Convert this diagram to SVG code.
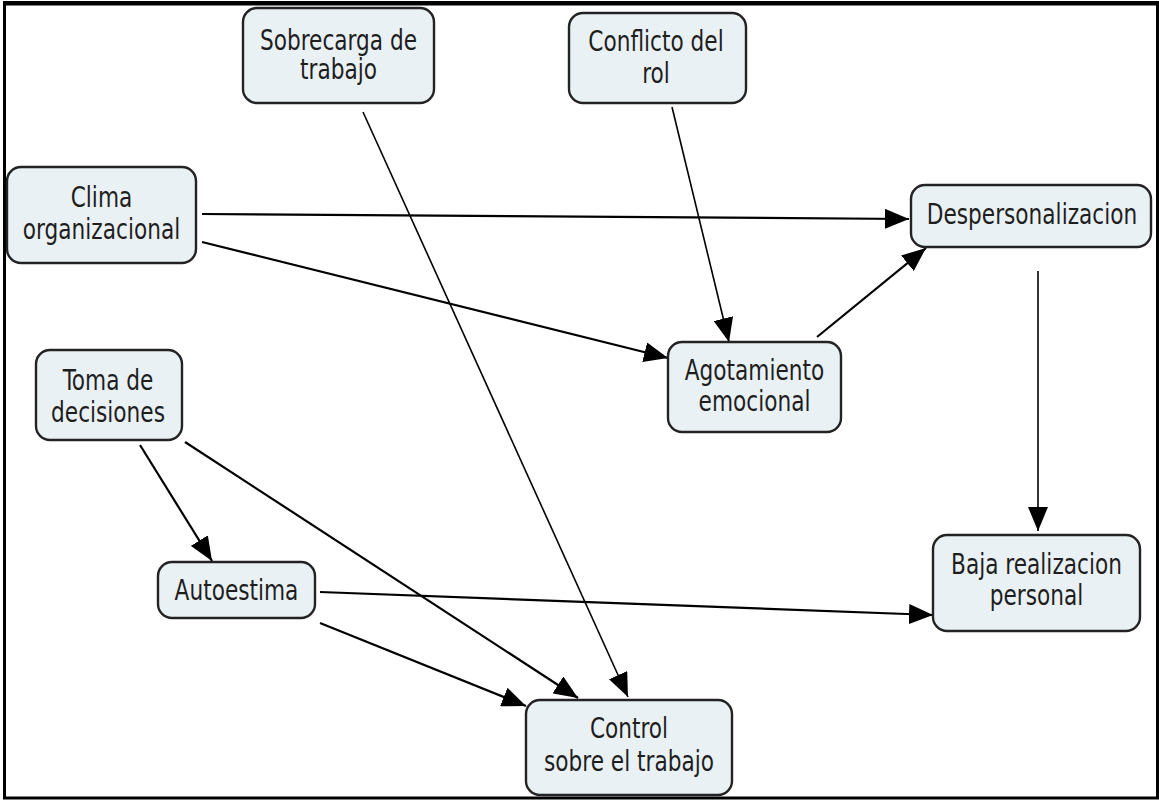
<svg xmlns="http://www.w3.org/2000/svg" width="1159" height="803" viewBox="0 0 1159 803">
<style>
.n rect{fill:#eaf1f5;stroke:#232323;stroke-width:2.4}
.n text{font-family:"DejaVu Sans Condensed","DejaVu Sans",sans-serif;font-size:28px;fill:#1e1e1e;text-anchor:middle}
.c line{stroke:#000;stroke-width:2.2;fill:none}
.c line.t{stroke-width:1.6}
</style>
<defs>
<marker id="a" viewBox="0 0 24 20" refX="24" refY="10" markerWidth="24" markerHeight="20" markerUnits="userSpaceOnUse" orient="auto">
<path d="M0,0 L24,10 L0,20 z" fill="#000"/>
</marker>
</defs>
<rect x="0" y="0" width="1159" height="803" fill="#fff"/>
<rect x="4.5" y="4" width="1153" height="794" fill="none" stroke="#000" stroke-width="3"/>
<line x1="3" y1="3" x2="1159" y2="3" stroke="#000" stroke-width="4"/>
<g class="c" id="connectors">
<line class="t" x1="363" y1="112" x2="628" y2="697" marker-end="url(#a)"/>
<line class="t" x1="672" y1="107" x2="729" y2="342" marker-end="url(#a)"/>
<line x1="202" y1="214" x2="909" y2="219" stroke-width="2.6" marker-end="url(#a)"/>
<line x1="202" y1="242" x2="668" y2="358" marker-end="url(#a)"/>
<line x1="817" y1="337" x2="926" y2="248" marker-end="url(#a)"/>
<line class="t" x1="1038" y1="271" x2="1038" y2="531" marker-end="url(#a)"/>
<line x1="140" y1="445" x2="212" y2="561" marker-end="url(#a)"/>
<line x1="185" y1="442" x2="578" y2="698" marker-end="url(#a)"/>
<line x1="320" y1="592" x2="933" y2="615" marker-end="url(#a)"/>
<line x1="320" y1="623" x2="526" y2="706" marker-end="url(#a)"/>
</g>
<g class="n" id="sobrecarga"><rect x="243" y="8" width="191" height="95" rx="14"/><text transform="translate(338.5 50) scale(0.86 1)">Sobrecarga de</text><text transform="translate(338.5 79) scale(0.86 1)">trabajo</text></g>
<g class="n" id="conflicto"><rect x="569" y="13" width="177" height="90" rx="14"/><text transform="translate(656 51) scale(0.86 1)">Conflicto del</text><text transform="translate(656 83) scale(0.86 1)">rol</text></g>
<g class="n" id="clima"><rect x="7" y="167" width="189" height="96" rx="14"/><text transform="translate(101.5 207) scale(0.86 1)">Clima</text><text transform="translate(101.5 239) scale(0.86 1)">organizacional</text></g>
<g class="n" id="despersonalizacion"><rect x="911" y="185" width="240" height="62" rx="14"/><text transform="translate(1032 224) scale(0.86 1)">Despersonalizacion</text></g>
<g class="n" id="agotamiento"><rect x="668" y="342" width="173" height="90" rx="14"/><text transform="translate(754.5 380) scale(0.86 1)">Agotamiento</text><text transform="translate(754.5 411) scale(0.86 1)">emocional</text></g>
<g class="n" id="toma"><rect x="36" y="350" width="146" height="90" rx="14"/><text transform="translate(108 390) scale(0.86 1)">Toma de</text><text transform="translate(108 422) scale(0.86 1)">decisiones</text></g>
<g class="n" id="autoestima"><rect x="158" y="562" width="157" height="56" rx="14"/><text transform="translate(236.5 600) scale(0.86 1)">Autoestima</text></g>
<g class="n" id="baja"><rect x="933" y="535" width="207" height="96" rx="14"/><text transform="translate(1036.5 574) scale(0.86 1)">Baja realizacion</text><text transform="translate(1036.5 605) scale(0.86 1)">personal</text></g>
<g class="n" id="control"><rect x="526" y="700" width="206" height="95" rx="14"/><text transform="translate(629 738) scale(0.86 1)">Control</text><text transform="translate(629 771) scale(0.86 1)">sobre el trabajo</text></g>
</svg>
